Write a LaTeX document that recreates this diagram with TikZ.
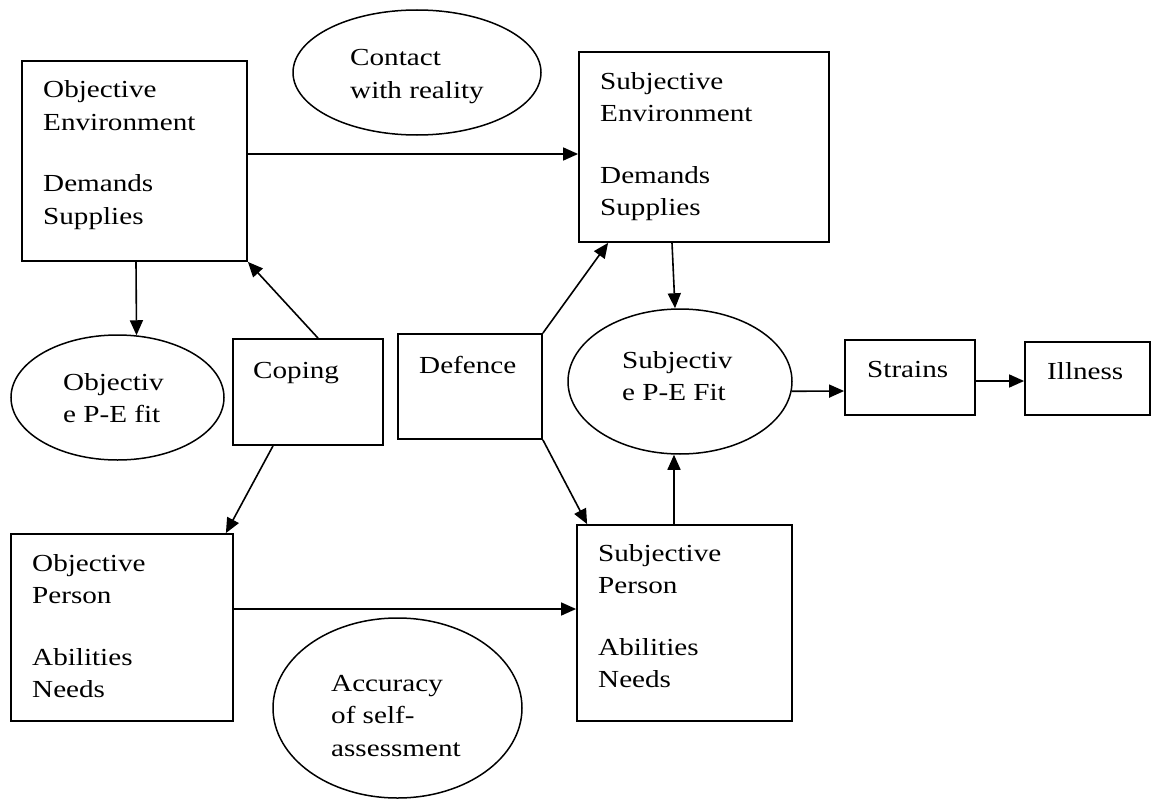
\documentclass[tikz,border=0pt]{standalone}
\usepackage{fontspec}
\setmainfont{Liberation Serif}[FakeStretch=1.19]
\usetikzlibrary{arrows.meta,shapes.geometric}

% stacked lines; the node's base is the baseline of the first line
\newcommand\rows[1]{\vtop{#1}}

\begin{document}
\begin{tikzpicture}[x=1pt,y=-1pt,
  box/.style={draw, rectangle, line width=1.8pt, inner sep=0pt},
  oval/.style={draw, ellipse, line width=1.5pt, inner sep=0pt},
  txt/.style={anchor=base west, inner sep=0pt, font=\fontsize{24.5}{32.5}\selectfont},
  arr/.style={line width=1.6pt, -{Triangle[length=15pt,width=13pt]}}]
\useasboundingbox (0,0) rectangle (1157,800);

% boxes
\node[box, minimum width=225pt, minimum height=200pt] (oe)  at (134.5,161)  {};
\node[box, minimum width=250pt, minimum height=190pt] (se)  at (704,147)    {};
\node[box, minimum width=150pt, minimum height=106pt] (cop) at (308,392)    {};
\node[box, minimum width=144pt, minimum height=105pt] (def) at (470,386.5)  {};
\node[box, minimum width=130pt, minimum height=75pt]  (str) at (910,377.5)  {};
\node[box, minimum width=125pt, minimum height=73pt]  (ill) at (1087.5,378.5) {};
\node[box, minimum width=222pt, minimum height=187pt] (op)  at (122,627.5)  {};
\node[box, minimum width=215pt, minimum height=196pt] (sp)  at (684.5,623)  {};

% ellipses
\node[oval, minimum width=248pt, minimum height=125pt] (cr)  at (417,72.5)   {};
\node[oval, minimum width=213pt, minimum height=125pt] (ope) at (117.5,397.5) {};
\node[oval, minimum width=224pt, minimum height=145pt] (spe) at (680,381.5)  {};
\node[oval, minimum width=249pt, minimum height=180pt] (acc) at (397.5,708)  {};

% labels
\node[txt] (oe-t)  at (43,98)   {\rows{\hbox{Objective}\hbox{Environment}\vskip29pt\hbox{Demands}\hbox{Supplies}}};
\node[txt] (se-t)  at (600,89)  {\rows{\hbox{Subjective}\hbox{Environment}\vskip29pt\hbox{Demands}\hbox{Supplies}}};
\node[txt] (cr-t)  at (350,66)  {\rows{\hbox{Contact}\hbox{with reality}}};
\node[txt] (ope-t) at (63,390)  {\rows{\hbox{Objectiv}\hbox{e P-E fit}}};
\node[txt] (cop-t) at (253,378) {Coping};
\node[txt] (def-t) at (419,373) {Defence};
\node[txt] (spe-t) at (622,368) {\rows{\hbox{Subjectiv}\hbox{e P-E Fit}}};
\node[txt] (str-t) at (867,377) {Strains};
\node[txt] (ill-t) at (1047,379) {Illness};
\node[txt] (op-t)  at (32,571)  {\rows{\hbox{Objective}\hbox{Person}\vskip29pt\hbox{Abilities}\hbox{Needs}}};
\node[txt] (sp-t)  at (598,561) {\rows{\hbox{Subjective}\hbox{Person}\vskip29pt\hbox{Abilities}\hbox{Needs}}};
\node[txt] (acc-t) at (331,691) {\rows{\hbox{Accuracy}\hbox{of self-}\hbox{assessment}}};

% connectors
\draw[arr] ([yshift=7pt]oe.east) -- ([yshift=-7pt]se.west);
\draw[arr] ([xshift=1.5pt]oe.south) -- (ope.73);
\draw[arr] ([xshift=10pt]cop.north) -- (oe.south east);
\draw[arr] ([xshift=-35pt]cop.south) -- ([xshift=-8pt]op.north east);
\draw[arr] (def.north east) -- ([xshift=30pt]se.south west);
\draw[arr] (def.south east) -- ([xshift=11pt]sp.north west);
\draw[arr] ([xshift=-32pt]se.south) -- ([xshift=-5pt]spe.north);
\draw[arr] ([xshift=-10.5pt]sp.north) -- ([xshift=-6pt]spe.south);
\draw[arr] (spe.-5) -- ([yshift=-13.5pt]str.west);
\draw[arr] ([yshift=-3.5pt]str.east) -- ([yshift=-2.5pt]ill.west);
\draw[arr] ([yshift=18.5pt]op.east) -- ([yshift=14pt]sp.west);
\end{tikzpicture}
\end{document}
